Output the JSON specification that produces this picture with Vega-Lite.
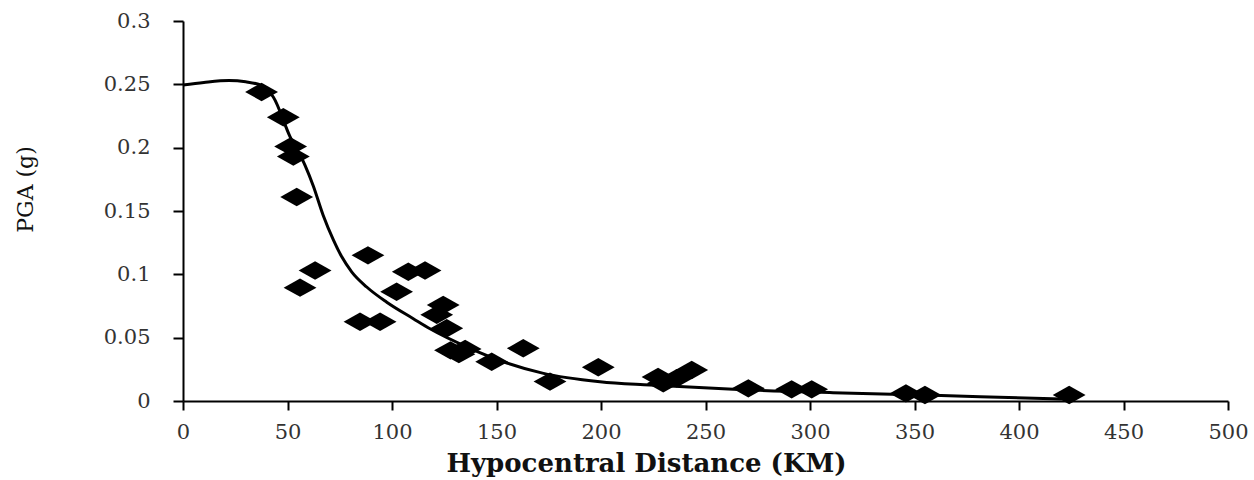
{
  "$schema": "https://vega.github.io/schema/vega-lite/v6.json",
  "autosize": "none",
  "width": 1045,
  "height": 380,
  "padding": {"left": 183, "top": 21, "right": 26, "bottom": 79},
  "background": "white",
  "config": {"view": {"stroke": null}},
  "datasets": {
    "obs": [
      {"d": 37.6, "pga": 0.244}, {"d": 48, "pga": 0.224}, {"d": 51.5, "pga": 0.201},
      {"d": 52.8, "pga": 0.193}, {"d": 54.4, "pga": 0.161}, {"d": 56, "pga": 0.0895},
      {"d": 63.2, "pga": 0.103}, {"d": 84.7, "pga": 0.0626}, {"d": 88.5, "pga": 0.115},
      {"d": 94.3, "pga": 0.0626}, {"d": 102.2, "pga": 0.0863}, {"d": 107.8, "pga": 0.102},
      {"d": 115.8, "pga": 0.103}, {"d": 121.4, "pga": 0.068}, {"d": 124.5, "pga": 0.0758},
      {"d": 126.2, "pga": 0.0574}, {"d": 128, "pga": 0.04}, {"d": 132, "pga": 0.037},
      {"d": 135, "pga": 0.041}, {"d": 147.7, "pga": 0.031}, {"d": 162.8, "pga": 0.0416},
      {"d": 175.6, "pga": 0.0153}, {"d": 198.7, "pga": 0.0266}, {"d": 227.3, "pga": 0.019},
      {"d": 229.8, "pga": 0.014}, {"d": 236.2, "pga": 0.0179}, {"d": 243.4, "pga": 0.0245},
      {"d": 270.5, "pga": 0.01}, {"d": 291.2, "pga": 0.0092}, {"d": 300.8, "pga": 0.0092},
      {"d": 345.9, "pga": 0.006}, {"d": 355, "pga": 0.0047}, {"d": 424, "pga": 0.0047}
    ],
    "fit": [
      {"d": 0, "pga": 0.2495}, {"d": 10, "pga": 0.2515}, {"d": 22, "pga": 0.253},
      {"d": 30, "pga": 0.252}, {"d": 37.8, "pga": 0.249}, {"d": 43.2, "pga": 0.24},
      {"d": 51.2, "pga": 0.2087}, {"d": 58.4, "pga": 0.186}, {"d": 62.3, "pga": 0.17},
      {"d": 67.1, "pga": 0.1465}, {"d": 72, "pga": 0.127}, {"d": 75.9, "pga": 0.114},
      {"d": 80.7, "pga": 0.102}, {"d": 87.9, "pga": 0.09}, {"d": 97.5, "pga": 0.078},
      {"d": 110.2, "pga": 0.065}, {"d": 118.2, "pga": 0.057}, {"d": 137.3, "pga": 0.0416},
      {"d": 153.3, "pga": 0.031}, {"d": 172, "pga": 0.022}, {"d": 199.5, "pga": 0.0152},
      {"d": 223.4, "pga": 0.0126}, {"d": 263.3, "pga": 0.0092}, {"d": 311, "pga": 0.0066},
      {"d": 359, "pga": 0.0045}, {"d": 416, "pga": 0.0018}, {"d": 424, "pga": 0.0015}
    ]
  },
  "layer": [
    {
      "data": {"name": "obs"},
      "mark": {"type": "point", "filled": true, "opacity": 1, "color": "black",
               "shape": "M-1,0L0,-0.56L1,0L0,0.56Z", "size": 1080},
      "encoding": {
        "x": {"field": "d", "type": "quantitative",
              "scale": {"domain": [0, 500], "nice": false, "zero": true},
              "axis": {"values": [0, 50, 100, 150, 200, 250, 300, 350, 400, 450, 500],
                       "title": "Hypocentral Distance  (KM)", "grid": false,
                       "domainColor": "black", "domainWidth": 2, "tickColor": "black",
                       "tickWidth": 2, "tickSize": 9, "labelPadding": 11,
                       "labelFont": "DejaVu Serif", "labelFontSize": 21, "labelColor": "#333",
                       "titleFont": "DejaVu Serif", "titleFontWeight": "bold", "titleFontSize": 26,
                       "titleColor": "#111", "titleX": 463, "titleY": 70,
                       "titleAlign": "center", "titleBaseline": "alphabetic", "labelFlush": false}},
        "y": {"field": "pga", "type": "quantitative",
              "scale": {"domain": [0, 0.3], "nice": false},
              "axis": {"values": [0, 0.05, 0.1, 0.15, 0.2, 0.25, 0.3], "format": ".2~f",
                       "title": "PGA (g)", "grid": false,
                       "domainColor": "black", "domainWidth": 2, "tickColor": "black",
                       "tickWidth": 2, "tickSize": 10, "labelPadding": 23,
                       "labelFont": "DejaVu Serif", "labelFontSize": 21, "labelColor": "#333",
                       "titleFont": "DejaVu Serif", "titleFontWeight": "normal", "titleFontSize": 22,
                       "titleColor": "#111", "titleX": -158, "titleY": 168, "titleAngle": -90,
                       "titleAlign": "center", "titleBaseline": "middle", "labelFlush": false}}
      }
    },
    {
      "data": {"name": "fit"},
      "mark": {"type": "line", "color": "black", "strokeWidth": 3, "interpolate": "monotone"},
      "encoding": {
        "x": {"field": "d", "type": "quantitative"},
        "y": {"field": "pga", "type": "quantitative"}
      }
    }
  ]
}
